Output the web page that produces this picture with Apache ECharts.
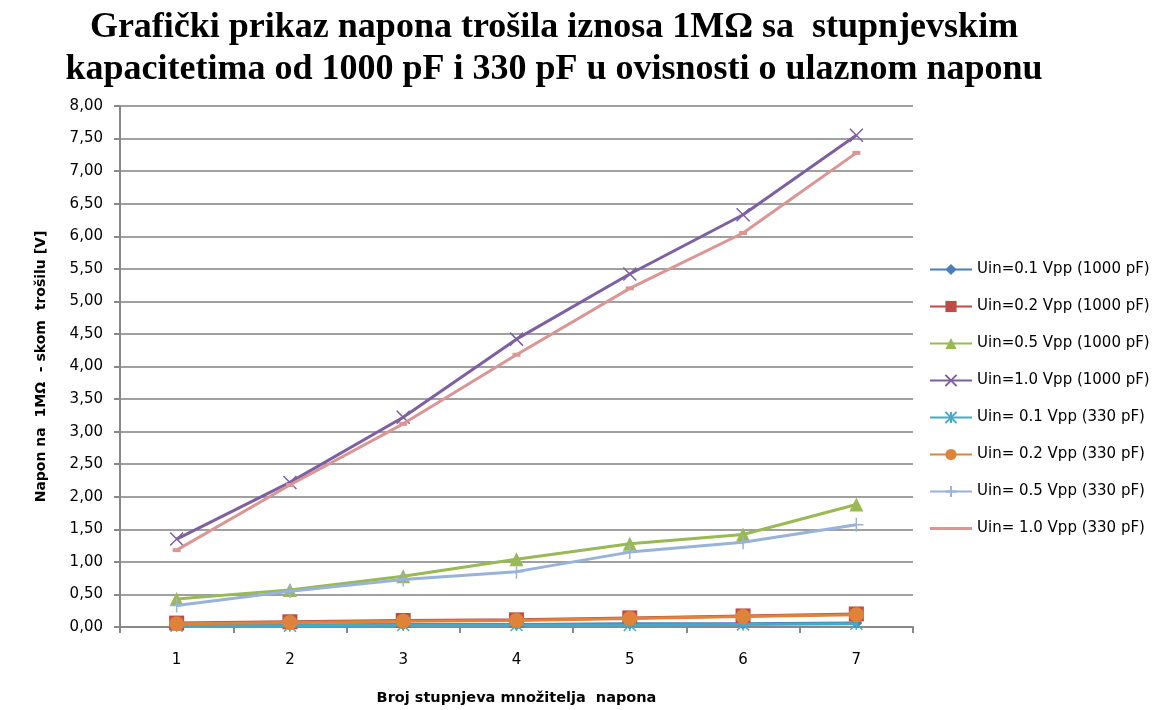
<!DOCTYPE html>
<html>
<head>
    <meta content="text/html; charset=UTF-8" http-equiv="Content-Type">
    <title>Napon trošila</title>
    <style>
        html, body {
            height: 100%;
            width: 100%;
            margin: 0;
            padding: 0;
            background: #fff;
        }
    </style>
    <script src="https://cdn.jsdelivr.net/npm/echarts@6/dist/echarts.min.js"></script>
</head>
<body>
<div id="main" style="width: 1167px; height: 710px;"></div>
<script type="text/javascript">
    // broj stupnjeva
    var xName = ['1', '2', '3', '4', '5', '6', '7'];
    var yTicks = [0, 8, 0.5];

    var names = ['Uin=0.1 Vpp (1000 pF)', 'Uin=0.2 Vpp (1000 pF)', 'Uin=0.5 Vpp (1000 pF)',
        'Uin=1.0 Vpp (1000 pF)', 'Uin= 0.1 Vpp (330 pF)', 'Uin= 0.2 Vpp (330 pF)',
        'Uin= 0.5 Vpp (330 pF)', 'Uin= 1.0 Vpp (330 pF)'];

    // 1000 pF
    var u01_1000 = [0.03, 0.03, 0.04, 0.04, 0.05, 0.05, 0.06];
    var u02_1000 = [0.06, 0.08, 0.10, 0.11, 0.14, 0.17, 0.20];
    var u05_1000 = [0.43, 0.57, 0.78, 1.04, 1.28, 1.42, 1.88];
    var u10_1000 = [1.35, 2.22, 3.22, 4.42, 5.42, 6.33, 7.55];
    // 330 pF
    var u01_330 = [0.02, 0.02, 0.03, 0.03, 0.03, 0.04, 0.05];
    var u02_330 = [0.05, 0.07, 0.09, 0.10, 0.13, 0.16, 0.19];
    var u05_330 = [0.33, 0.55, 0.73, 0.85, 1.15, 1.30, 1.57];
    var u10_330 = [1.18, 2.18, 3.12, 4.18, 5.20, 6.05, 7.28];

    var colors = ['#4A7EBB', '#BE4B48', '#98B954', '#7D60A0', '#46AAC5', '#E0833A', '#98B2DA', '#D99694'];

    var xPath = 'path://M0,0L10,10M10,0L0,10';
    var starPath = 'path://M0,0L10,10M10,0L0,10M5,0L5,10';
    var plusPath = 'path://M5,0L5,10M0,5L10,5';

    function makeSeries(i, data, symbol, size, hollow) {
        var s = {
            name: names[i],
            type: 'line',
            data: data,
            symbol: symbol,
            symbolSize: size,
            z: 2 + i,
            lineStyle: {color: colors[i], width: 3},
            itemStyle: {color: colors[i]}
        };
        if (hollow) {
            s.itemStyle = {color: 'rgba(0,0,0,0)', borderColor: colors[i], borderWidth: 1.5};
        }
        return s;
    }

    // legenda: zadnja serija samo linija
    var legendData = names.map(function (n, i) {
        if (i === 7) {
            return {name: n, icon: 'path://M0,0L42,0L42,3L0,3Z'};
        }
        return n;
    });

    var myChart = echarts.init(document.getElementById('main'));
    var option = {
        animation: false,
        color: colors,
        title: {
            text: 'Grafički prikaz napona trošila iznosa 1MΩ sa  stupnjevskim\nkapacitetima od 1000 pF i 330 pF u ovisnosti o ulaznom naponu',
            left: 549,
            top: 2,
            textAlign: 'center',
            textStyle: {
                fontFamily: 'Liberation Serif',
                fontWeight: 'bold',
                fontSize: 36,
                lineHeight: 42,
                color: '#000'
            }
        },
        legend: {
            orient: 'vertical',
            left: 924,
            top: 257,
            itemGap: 22,
            itemWidth: 42,
            itemHeight: 14,
            textStyle: {
                fontFamily: 'DejaVu Sans',
                fontSize: 15,
                color: '#000'
            },
            data: legendData
        },
        grid: {
            left: 120,
            right: 254,
            top: 106,
            bottom: 83,
            outerBoundsMode: 'none'
        },
        xAxis: {
            type: 'category',
            data: xName,
            boundaryGap: true,
            name: 'Broj stupnjeva množitelja  napona',
            nameLocation: 'middle',
            nameGap: 64,
            nameTextStyle: {
                fontFamily: 'DejaVu Sans',
                fontWeight: 'bold',
                fontSize: 14.5,
                color: '#000'
            },
            axisLine: {lineStyle: {color: '#888', width: 2}},
            axisTick: {show: true, length: 6, lineStyle: {color: '#888', width: 2}},
            axisLabel: {
                margin: 26,
                fontFamily: 'DejaVu Sans',
                fontSize: 15,
                color: '#000'
            }
        },
        yAxis: {
            type: 'value',
            min: yTicks[0],
            max: yTicks[1],
            interval: yTicks[2],
            name: 'Napon na  1MΩ  - skom  trošilu [V]',
            nameLocation: 'middle',
            nameGap: 72,
            nameRotate: 90,
            nameTextStyle: {
                fontFamily: 'DejaVu Sans',
                fontWeight: 'bold',
                fontSize: 14,
                color: '#000'
            },
            axisLine: {show: true, lineStyle: {color: '#888', width: 2}},
            axisTick: {show: true, inside: false, length: 6, lineStyle: {color: '#888', width: 2}},
            splitLine: {lineStyle: {color: '#A0A0A0', width: 2}},
            axisLabel: {
                margin: 17,
                fontFamily: 'DejaVu Sans',
                fontSize: 15,
                color: '#000',
                formatter: function (v) {
                    return v.toFixed(2).replace('.', ',');
                }
            }
        },
        series: [
            makeSeries(0, u01_1000, 'diamond', 12, false),
            makeSeries(1, u02_1000, 'rect', 15, false),
            makeSeries(2, u05_1000, 'triangle', 14, false),
            makeSeries(3, u10_1000, xPath, 13, true),
            makeSeries(4, u01_330, starPath, 12, true),
            makeSeries(5, u02_330, 'circle', 15, false),
            makeSeries(6, u05_330, plusPath, 14, true),
            makeSeries(7, u10_330, 'rect', [8, 4], false)
        ]
    };
    myChart.setOption(option);
</script>
</body>
</html>
